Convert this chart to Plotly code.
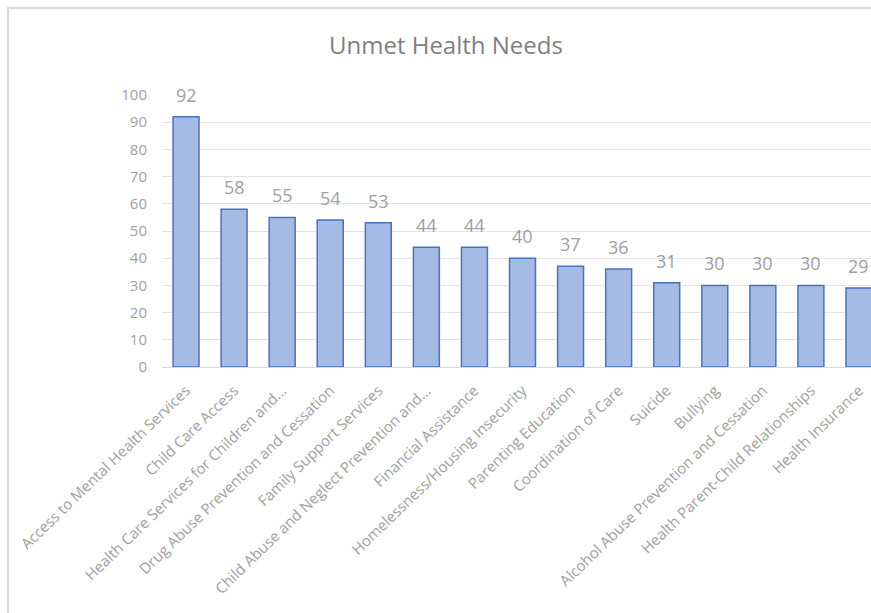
import plotly.graph_objects as go

categories = [
    "Access to Mental Health Services",
    "Child Care Access",
    "Health Care Services for Children and...",
    "Drug Abuse Prevention and Cessation",
    "Family Support Services",
    "Child Abuse and Neglect Prevention and...",
    "Financial Assistance",
    "Homelessness/Housing Insecurity",
    "Parenting Education",
    "Coordination of Care",
    "Suicide",
    "Bullying",
    "Alcohol Abuse Prevention and Cessation",
    "Health Parent-Child Relationships",
    "Health Insurance",
]
values = [92, 58, 55, 54, 53, 44, 44, 40, 37, 36, 31, 30, 30, 30, 29]
y_ticks = [0, 10, 20, 30, 40, 50, 60, 70, 80, 90, 100]

W, H = 871, 613
ML, MR, MT, MB = 162, 0, 95, 246
pw = W - ML - MR
ph = H - MT - MB

def px_x(p):
    return (p - ML) / pw

def px_y(p):
    return (H - MB - p) / ph

FONT = "Open Sans"
GRAY = "#a0a0a0"

fig = go.Figure(
    go.Bar(
        x=categories,
        y=values,
        marker=dict(color="#a4bbe5", line=dict(color="#4a72bd", width=1.5)),
        hoverinfo="x+y",
    )
)

label_annotations = [
    dict(
        x=c, y=v, xref="x", yref="y",
        text=str(v), showarrow=False,
        yanchor="middle", yshift=22,
        font=dict(family=FONT, size=18, color=GRAY),
    )
    for c, v in zip(categories, values)
]

fig.update_layout(
    width=W,
    height=H,
    margin=dict(l=ML, r=MR, t=MT, b=MB),
    paper_bgcolor="white",
    plot_bgcolor="white",
    bargap=0.46,
    showlegend=False,
    font=dict(family=FONT, color=GRAY),
    xaxis=dict(
        range=[-0.5, 14.25],
        tickangle=-44,
        tickfont=dict(family=FONT, size=15, color=GRAY),
        showgrid=False,
        showline=True,
        linecolor="#d9d9d9",
        linewidth=1,
        ticks="",
        ticklabelstandoff=8,
    ),
    yaxis=dict(
        range=[0, 100],
        tickvals=y_ticks,
        tickfont=dict(family=FONT, size=15, color=GRAY),
        showgrid=True,
        gridcolor="#e3e3e3",
        gridwidth=1,
        zeroline=False,
        ticklabelstandoff=14,
    ),
    annotations=label_annotations + [
        dict(
            text="Unmet Health Needs",
            xref="paper", yref="paper",
            x=px_x(446), y=px_y(44),
            xanchor="center", yanchor="middle",
            showarrow=False,
            font=dict(family=FONT, size=24, color="#7f7f7f"),
        )
    ],
    shapes=[
        dict(
            type="path",
            xref="paper", yref="paper",
            path=f"M {px_x(8)} {px_y(640)} L {px_x(8)} {px_y(8)} L {px_x(900)} {px_y(8)}",
            line=dict(color="#d9d9d9", width=2),
        )
    ],
)

fig.write_html("out.html")
